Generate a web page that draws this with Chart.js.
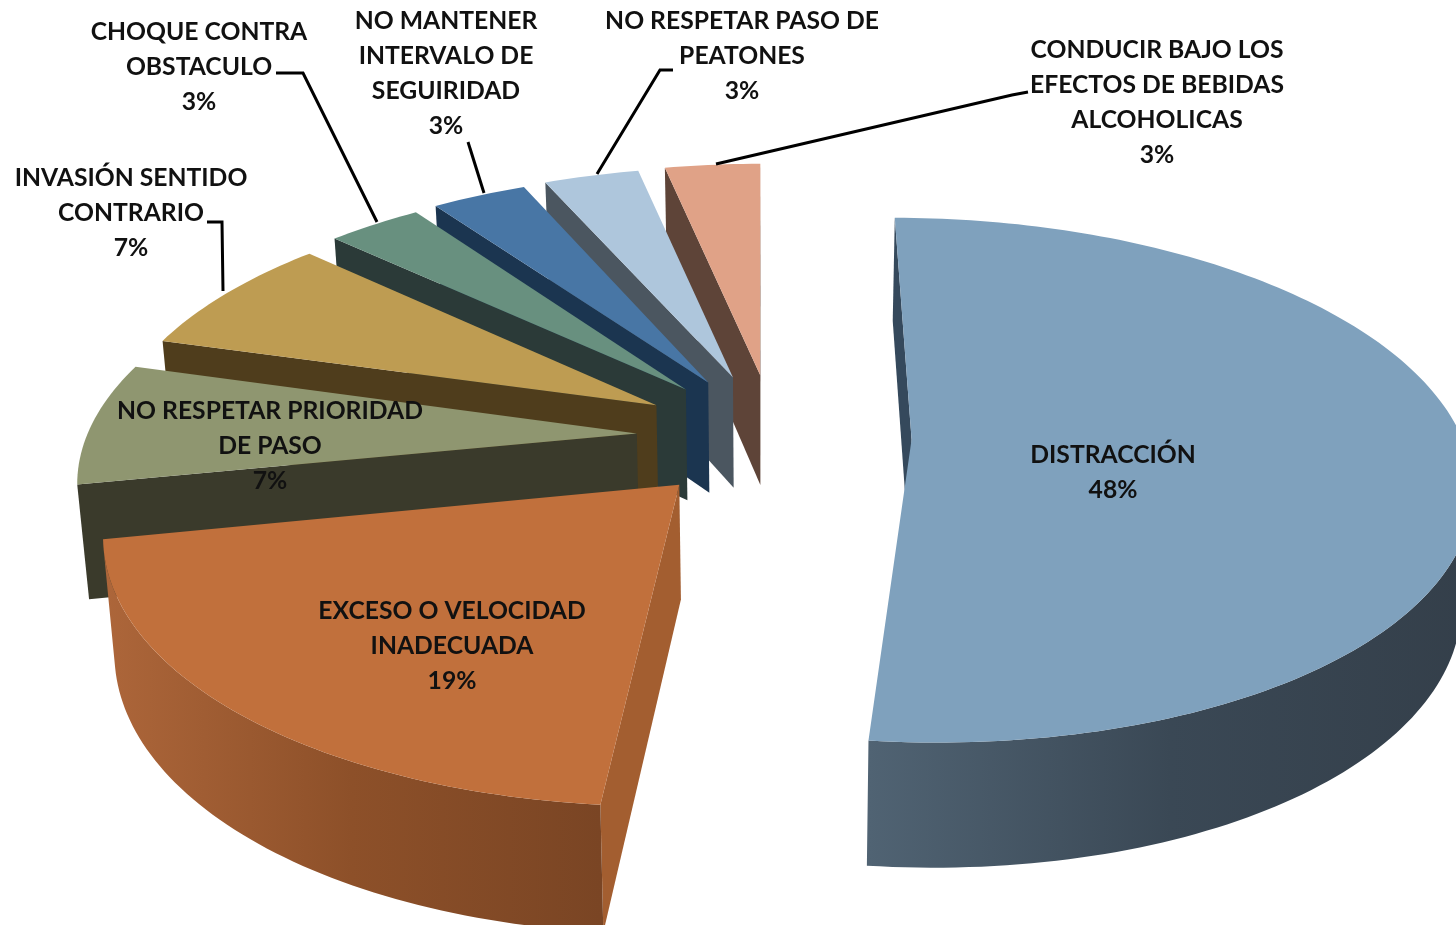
<!DOCTYPE html>
<html>
<head>
<meta charset="utf-8">
<style>
    html, body { margin: 0; padding: 0; background: #ffffff; overflow: hidden; }
    canvas { display: block; }
</style>
<script src="https://cdn.jsdelivr.net/npm/chart.js@4/dist/chart.umd.min.js"></script>
</head>
<body>
<canvas id="chartCausas" width="1456" height="925"></canvas>
<script>
'use strict';

const categorias = [
    ['DISTRACCIÓN'],
    ['EXCESO O VELOCIDAD', 'INADECUADA'],
    ['NO RESPETAR PRIORIDAD', 'DE PASO'],
    ['INVASIÓN SENTIDO', 'CONTRARIO'],
    ['CHOQUE CONTRA', 'OBSTACULO'],
    ['NO MANTENER', 'INTERVALO DE', 'SEGUIRIDAD'],
    ['NO RESPETAR PASO DE', 'PEATONES'],
    ['CONDUCIR BAJO LOS', 'EFECTOS DE BEBIDAS', 'ALCOHOLICAS']
];
const porcentajes = [48, 19, 7, 7, 3, 3, 3, 3];

const coloresCara = ['#7fa1bd', '#c1703c', '#8f9670', '#be9c52', '#68907f', '#4876a5', '#aec6dc', '#e0a287'];
const coloresPared = ['#35495c', '#a35e30', '#3a3a2b', '#4f3d1c', '#2b3a38', '#1b3550', '#4b5660', '#5e4438'];
// rim wall shading, left / middle / right
const bordeIzq = ['#506373', '#ad663a', '#3a3a2b', '#4f3d1c', '#2b3a38', '#1b3550', '#4b5660', '#5e4438'];
const bordeMed = ['#3a4855', '#8d5029', '#3a3a2b', '#4f3d1c', '#2b3a38', '#1b3550', '#4b5660', '#5e4438'];
const bordeDer = ['#343f4a', '#7a4524', '#3a3a2b', '#4f3d1c', '#2b3a38', '#1b3550', '#4b5660', '#5e4438'];

// small turn of each exploded slice, in degrees (the sweep stays the data's)
const giro = [0, -0.8, -0.8, -0.8, -0.8, -0.8, -0.8, -0.4];
// radius of the far slices, they reach a little further back
const alcance = [1, 1, 1, 1, 1.015, 1.02, 1.025, 1.03];

// centre of each label block
const etiquetaX = [1113, 452, 270, 131, 199, 446, 742, 1157];
const etiquetaY = [454, 610, 410, 177, 31, 20, 20, 49];
const INTERLINEA = 35;

// leader lines of the outer labels
const guias = [
    [[207, 222], [222, 222], [223, 291]],
    [[276, 73], [303, 73], [377, 222]],
    [[468, 142], [484, 193]],
    [[673, 70], [660, 70], [597, 174]],
    [[1028, 92], [1012, 95], [716, 164]]
];

// perspective of the pie plane
const CENTRO_X = 774, CENTRO_Y = 436;
const ESCALA_X = 550, ESCALA_Y = 255, FUGA = 0.1547;
const GROSOR = 112.7, CONVERGE = 0.017;
const EXPLOSION = 0.25;

function proyectar(x, y, abajo) {
    const w = 1 - FUGA * y;
    let sx = CENTRO_X + ESCALA_X * x / w;
    let sy = CENTRO_Y + ESCALA_Y * y / w;
    if (abajo) {
        sx -= (sx - CENTRO_X) * CONVERGE;
        sy += GROSOR / Math.pow(w, 0.615);
    }
    return [sx, sy];
}

function trazar(ctx, puntos, relleno) {
    ctx.beginPath();
    puntos.forEach((p, i) => i ? ctx.lineTo(p[0], p[1]) : ctx.moveTo(p[0], p[1]));
    ctx.closePath();
    ctx.fillStyle = relleno;
    ctx.fill();
}

function areaFirmada(puntos) {
    let a = 0;
    puntos.forEach((p, i) => {
        const q = puntos[(i + 1) % puntos.length];
        a += p[0] * q[1] - q[0] * p[1];
    });
    return a;
}

// outline of a slice in plane coordinates, from the angles Chart.js computed
function contornoPorcion(arc, i) {
    const extra = giro[i] * Math.PI / 180;
    const ini = arc.startAngle + extra;
    const fin = arc.endAngle + extra;
    const medio = (ini + fin) / 2;
    const ox = EXPLOSION * Math.cos(medio);
    const oy = EXPLOSION * Math.sin(medio);
    const pasos = Math.max(6, Math.ceil((fin - ini) / 0.02));
    const borde = [];
    for (let k = 0; k <= pasos; k++) {
        const t = ini + (fin - ini) * k / pasos;
        borde.push([ox + alcance[i] * Math.cos(t), oy + alcance[i] * Math.sin(t)]);
    }
    return { vertice: [ox, oy], borde };
}

function dibujarPorcion(ctx, arc, i) {
    const { vertice, borde } = contornoPorcion(arc, i);
    const arriba = [vertice, ...borde].map(p => proyectar(p[0], p[1], false));
    const abajo = [vertice, ...borde].map(p => proyectar(p[0], p[1], true));
    const signo = Math.sign(areaFirmada(arriba));
    const n = arriba.length;
    const visible = (a, b) => Math.sign(areaFirmada([arriba[a], arriba[b], abajo[b], abajo[a]])) !== signo;

    // the two straight walls
    if (visible(0, 1)) trazar(ctx, [arriba[0], arriba[1], abajo[1], abajo[0]], coloresPared[i]);
    if (visible(n - 1, 0)) trazar(ctx, [arriba[n - 1], arriba[0], abajo[0], abajo[n - 1]], coloresPared[i]);

    // rim wall: one polygon per visible run
    const xs = arriba.slice(1).map(p => p[0]);
    const grad = ctx.createLinearGradient(Math.min(...xs), 0, Math.max(...xs), 0);
    grad.addColorStop(0, bordeIzq[i]);
    grad.addColorStop(0.5, bordeMed[i]);
    grad.addColorStop(1, bordeDer[i]);
    let tramo = [];
    const cerrar = () => {
        if (tramo.length > 1) {
            trazar(ctx, [...tramo.map(k => arriba[k]), ...tramo.slice().reverse().map(k => abajo[k])], grad);
        }
        tramo = [];
    };
    for (let k = 1; k < n - 1; k++) {
        if (visible(k, k + 1)) {
            if (!tramo.length) tramo.push(k);
            tramo.push(k + 1);
        } else {
            cerrar();
        }
    }
    cerrar();

    trazar(ctx, arriba, coloresCara[i]);
}

const pastel3d = {
    id: 'pastel3d',
    beforeDatasetsDraw(chart) {
        const ctx = chart.ctx;
        const arcos = chart.getDatasetMeta(0).data;
        ctx.save();
        // back to front: small slices first, the two big ones last
        [7, 6, 5, 4, 3, 2, 1, 0].forEach(i => dibujarPorcion(ctx, arcos[i], i));
        ctx.restore();
        return false;
    },
    afterDraw(chart) {
        const ctx = chart.ctx;
        ctx.save();
        ctx.strokeStyle = '#000000';
        ctx.lineWidth = 3;
        guias.forEach(g => {
            ctx.beginPath();
            g.forEach((p, i) => i ? ctx.lineTo(p[0], p[1]) : ctx.moveTo(p[0], p[1]));
            ctx.stroke();
        });
        ctx.fillStyle = '#111111';
        ctx.font = "bold 24.7px Lato, sans-serif";
        ctx.textAlign = 'center';
        ctx.textBaseline = 'middle';
        categorias.forEach((lineas, i) => {
            [...lineas, porcentajes[i] + '%'].forEach((txt, l) => {
                ctx.fillText(txt, etiquetaX[i], etiquetaY[i] + 1 + l * INTERLINEA);
            });
        });
        ctx.restore();
    }
};

new Chart(document.getElementById('chartCausas'), {
    type: 'pie',
    data: {
        labels: categorias.map(c => c.join(' ')),
        datasets: [{
            data: porcentajes,
            backgroundColor: coloresCara,
            borderWidth: 0
        }]
    },
    options: {
        responsive: false,
        animation: false,
        rotation: 0.2,
        plugins: {
            legend: { display: false },
            tooltip: { enabled: false }
        }
    },
    plugins: [pastel3d]
});
</script>
</body>
</html>
